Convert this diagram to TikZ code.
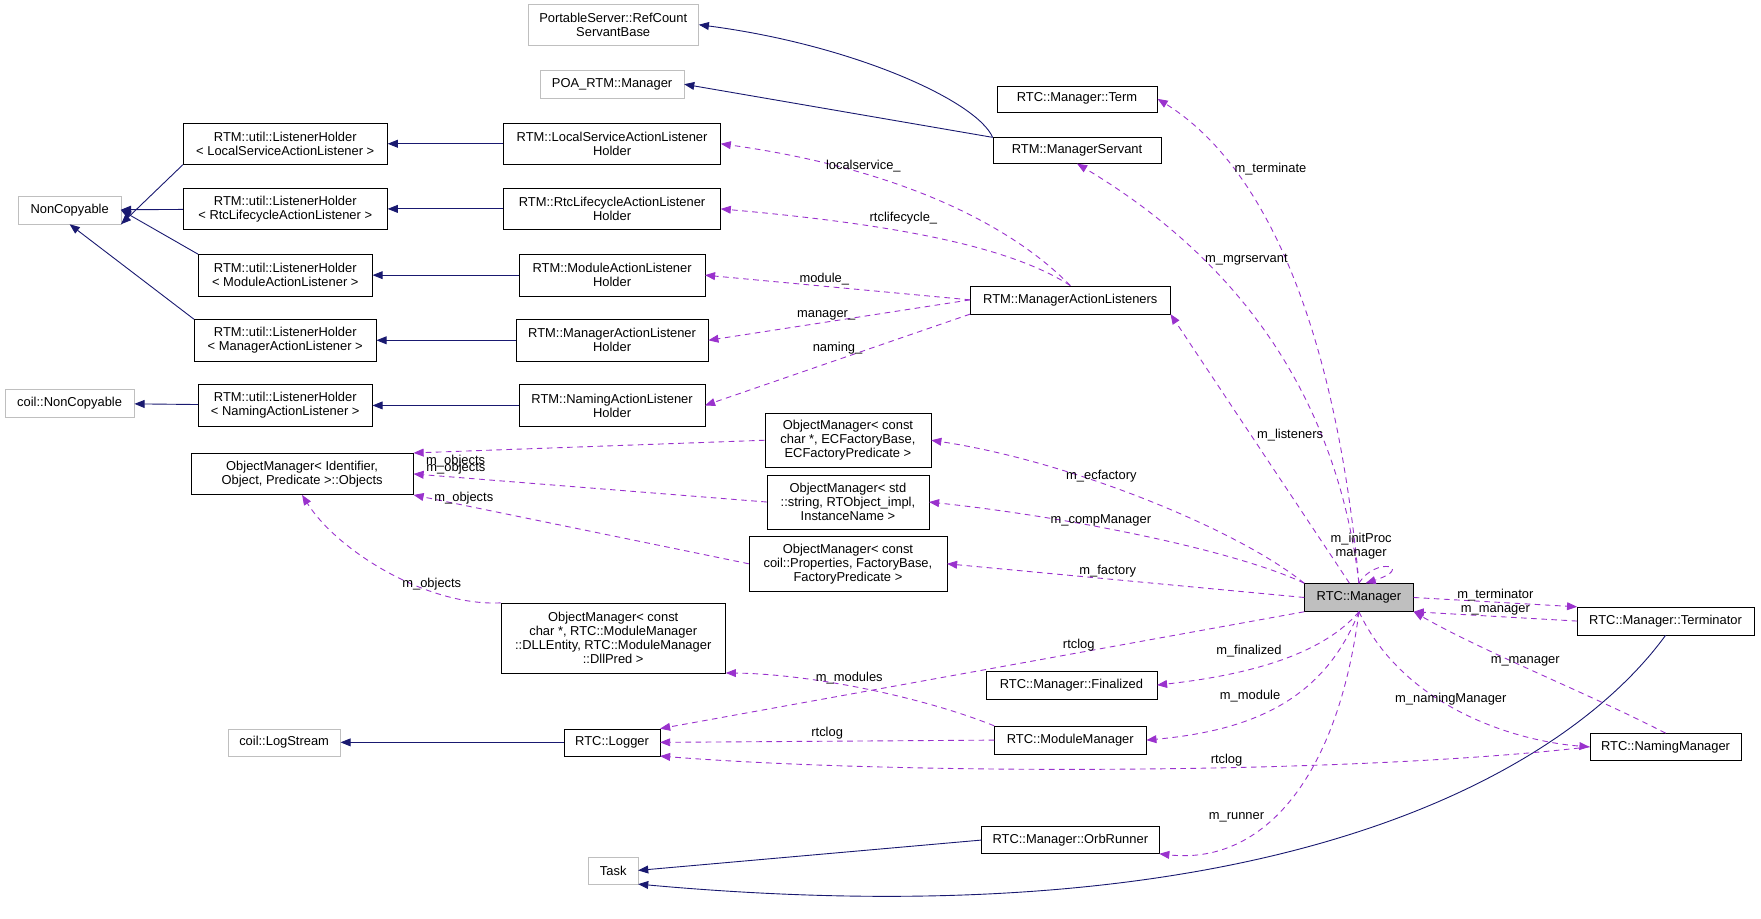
\documentclass[tikz,border=0pt]{standalone}
\usepackage{fontspec}
\setmainfont{Liberation Sans}
\usetikzlibrary{arrows.meta, positioning}
\definecolor{inhcol}{HTML}{191970}
\definecolor{usecol}{HTML}{9A32CD}
\definecolor{extcol}{HTML}{BFBFBF}

\begin{document}
\begin{tikzpicture}[x=1pt, y=-1pt, font=\fontsize{11.5}{12.5}\selectfont,
    box/.style={draw=black, fill=white, inner sep=1pt, align=center, minimum height=25pt},
    ext/.style={box, draw=extcol},
    inh/.style={draw=inhcol, thick, -{Triangle[length=9pt,width=7pt]}},
    dep/.style={draw=usecol, thick, dash pattern=on 5pt off 4pt, -{Triangle[length=9pt,width=7pt]}},
    lbl/.style={inner sep=1pt, fill=none}]
        \useasboundingbox (0,0) rectangle (1568,818);
        % Define the classes
        \node[ext, minimum width=152pt, minimum height=36pt] (rcsb) at (546,22) {PortableServer::RefCount\\ServantBase};
        \node[ext, minimum width=128pt] (poa) at (545,75) {POA\_RTM::Manager};
        \node[box, minimum width=143pt, minimum height=23pt] (term) at (959,88) {RTC::Manager::Term};
        \node[box, minimum width=182pt, minimum height=37pt] (lhlocal) at (254,128) {RTM::util::ListenerHolder\\< LocalServiceActionListener >};
        \node[box, minimum width=193pt, minimum height=37pt] (hlocal) at (545,128) {RTM::LocalServiceActionListener\\Holder};
        \node[box, minimum width=150pt, minimum height=23pt] (mgrsvt) at (959,134) {RTM::ManagerServant};
        \node[ext, minimum width=91pt] (noncp) at (62,187) {NonCopyable};
        \node[box, minimum width=182pt, minimum height=37pt] (lhrtc) at (254,186) {RTM::util::ListenerHolder\\< RtcLifecycleActionListener >};
        \node[box, minimum width=193pt, minimum height=37pt] (hrtc) at (545,186) {RTM::RtcLifecycleActionListener\\Holder};
        \node[box, minimum width=155pt, minimum height=37pt] (lhmod) at (254,245) {RTM::util::ListenerHolder\\< ModuleActionListener >};
        \node[box, minimum width=165pt, minimum height=37pt] (hmod) at (545,245) {RTM::ModuleActionListener\\Holder};
        \node[box, minimum width=178pt] (mal) at (953,267) {RTM::ManagerActionListeners};
        \node[box, minimum width=162pt, minimum height=37pt] (lhmgr) at (254,303) {RTM::util::ListenerHolder\\< ManagerActionListener >};
        \node[box, minimum width=171pt, minimum height=37pt] (hmgr) at (545,303) {RTM::ManagerActionListener\\Holder};
        \node[ext, minimum width=115pt] (cnoncp) at (62,359) {coil::NonCopyable};
        \node[box, minimum width=155pt, minimum height=37pt] (lhnam) at (254,361) {RTM::util::ListenerHolder\\< NamingActionListener >};
        \node[box, minimum width=165pt, minimum height=37pt] (hnam) at (545,361) {RTM::NamingActionListener\\Holder};
        \node[box, minimum width=148pt, minimum height=48pt] (omec) at (755,392) {ObjectManager< const\\char *, ECFactoryBase,\\ECFactoryPredicate >};
        \node[box, minimum width=198pt, minimum height=37pt] (objs) at (269,422) {ObjectManager< Identifier,\\Object, Predicate >::Objects};
        \node[box, minimum width=144pt, minimum height=48pt] (omcomp) at (755,447) {ObjectManager< std\\::string, RTObject\_impl,\\InstanceName >};
        \node[box, minimum width=176pt, minimum height=49pt] (omfac) at (755,502) {ObjectManager< const\\coil::Properties, FactoryBase,\\FactoryPredicate >};
        \node[box, fill=extcol, minimum width=97pt] (mgr) at (1210,532) {RTC::Manager};
        \node[box, minimum width=157pt] (termr) at (1483,553) {RTC::Manager::Terminator};
        \node[box, minimum width=200pt, minimum height=62pt] (omdll) at (546,568) {ObjectManager< const\\char *, RTC::ModuleManager\\::DLLEntity, RTC::ModuleManager\\::DllPred >};
        \node[box, minimum width=152pt] (fin) at (954,610) {RTC::Manager::Finalized};
        \node[ext, minimum width=100pt, minimum height=24pt] (logst) at (253,661) {coil::LogStream};
        \node[box, minimum width=85pt, minimum height=24pt] (logger) at (545,661) {RTC::Logger};
        \node[box, minimum width=135pt] (modmgr) at (953,659) {RTC::ModuleManager};
        \node[box, minimum width=135pt, minimum height=24pt] (nammgr) at (1483,665) {RTC::NamingManager};
        \node[box, minimum width=158pt, minimum height=24pt] (orb) at (953,748) {RTC::Manager::OrbRunner};
        \node[ext, minimum width=44pt, minimum height=24pt] (task) at (546,775) {Task};

        % Inheritance
        \draw[inh] (mgrsvt.north west) .. controls (870,90) and (760,40) .. (rcsb.east);
        \draw[inh] (mgrsvt.north west) -- (poa.east);
        \foreach \a/\b in {hlocal/lhlocal, hrtc/lhrtc, hmod/lhmod, hmgr/lhmgr, hnam/lhnam}
            \draw[inh] (\a) -- (\b);
        \draw[inh] (lhlocal.south west) -- (noncp.south east);
        \draw[inh] (lhrtc) -- (noncp);
        \draw[inh] (lhmod.north west) -- (noncp.east);
        \draw[inh] (lhmgr.north west) -- (noncp.south);
        \draw[inh] (lhnam) -- (cnoncp);
        \draw[inh] (logger) -- (logst);
        \draw[inh] (orb.west) -- (task.east);
        \draw[inh] (termr.south) .. controls (1400,680) and (1150,840) .. (task.south east);

        % Usage
        \draw[dep] (mgr.north) .. controls (1190,300) and (1130,150) .. node[lbl, pos=0.75, right] {m\_terminate} (term.east);
        \draw[dep] (mgr.north) .. controls (1190,350) and (1100,230) .. node[lbl, pos=0.7, right] {m\_mgrservant} (mgrsvt.south);
        \draw[dep] (mgr) -- node[lbl, pos=0.55, right=4pt] {m\_listeners} (mal.south east);
        \draw[dep] (mal.north) .. controls (900,200) and (800,150) .. node[lbl, pos=0.7, above] {localservice\_} (hlocal.east);
        \draw[dep] (mal.north) .. controls (900,220) and (800,200) .. node[lbl, pos=0.6, above=5pt] {rtclifecycle\_} (hrtc.east);
        \draw[dep] (mal.west) -- node[lbl, pos=0.55, above] {module\_} (hmod.east);
        \draw[dep] (mal.west) -- node[lbl, pos=0.55, above] {manager\_} (hmgr.east);
        \draw[dep] (mal.south west) -- node[lbl, pos=0.5, above=4pt] {naming\_} (hnam.east);
        \draw[dep] (omec.west) -- node[lbl, pos=0.88, below=2pt] {m\_objects} (objs.north east);
        \draw[dep] (omcomp.west) -- node[lbl, pos=0.88, above=1pt] {m\_objects} (objs.east);
        \draw[dep] (omfac.west) -- node[lbl, pos=0.85, above] {m\_objects} (objs.south east);
        \draw[dep] (omdll.north west) .. controls (380,540) and (300,490) .. node[lbl, pos=0.3, above] {m\_objects} (objs.south);
        \draw[dep] (mgr.north west) .. controls (1100,470) and (950,410) .. node[lbl, pos=0.6, above] {m\_ecfactory} (omec.east);
        \draw[dep] (mgr.north west) .. controls (1100,490) and (950,460) .. node[lbl, pos=0.6, above] {m\_compManager} (omcomp.east);
        \draw[dep] (mgr.west) -- node[lbl, pos=0.55, above] {m\_factory} (omfac.east);
        \draw[dep] (mgr.north) .. controls (1225,495) and (1260,505) .. (mgr.65);
        \node[lbl, align=center] (loopl) at (1212,486) {m\_initProc\\manager};
        \draw[dep] (mgr.east) -- node[lbl, above] {m\_terminator} (termr.north west);
        \draw[dep] (termr.west) -- node[lbl, above] {m\_manager} (mgr.south east);
        \draw[dep] (nammgr.north) .. controls (1420,620) and (1320,580) .. node[lbl, pos=0.55, above] {m\_manager} (mgr.south east);
        \draw[dep] (mgr.south) .. controls (1250,630) and (1350,660) .. node[lbl, pos=0.45, above] {m\_namingManager} (nammgr.west);
        \draw[dep] (mgr.south west) -- node[lbl, pos=0.35, above] {rtclog} (logger.north east);
        \draw[dep] (mgr.south) .. controls (1180,580) and (1120,600) .. node[lbl, pos=0.5, above left] {m\_finalized} (fin.east);
        \draw[dep] (mgr.south) .. controls (1180,620) and (1120,650) .. node[lbl, pos=0.5, above left] {m\_module} (modmgr.east);
        \draw[dep] (modmgr.north west) .. controls (820,620) and (720,600) .. node[lbl, pos=0.55, above] {m\_modules} (omdll.south east);
        \draw[dep] (modmgr.west) -- node[lbl, above] {rtclog} (logger.east);
        \draw[dep] (nammgr.west) .. controls (1200,690) and (800,690) .. node[lbl, pos=0.4, above] {rtclog} (logger.south east);
        \draw[dep] (mgr.south) .. controls (1190,700) and (1120,770) .. node[lbl, pos=0.6, above left] {m\_runner} (orb.south east);
    \end{tikzpicture}
\end{document}
